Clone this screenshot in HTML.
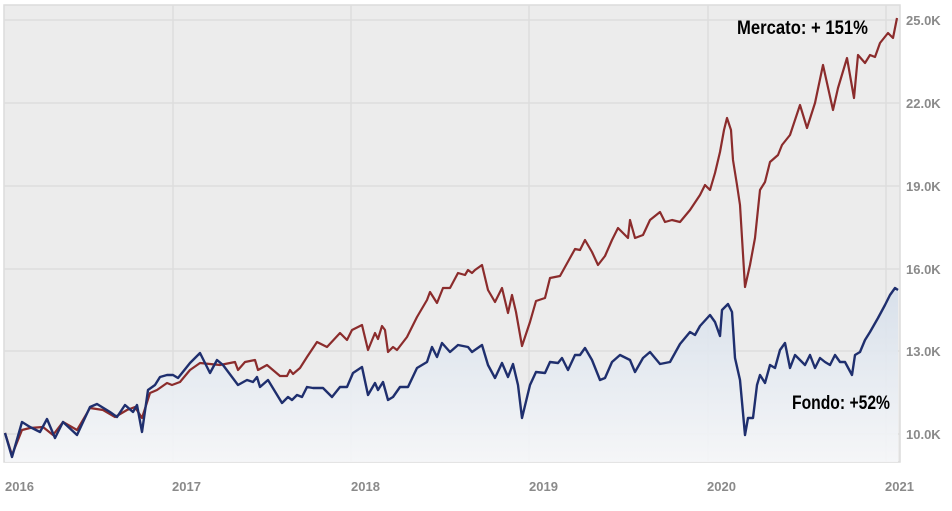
<!DOCTYPE html>
<html><head><meta charset="utf-8"><style>
html,body{margin:0;padding:0;background:#fff;}
svg{display:block;}
</style></head><body>
<svg width="952" height="511" viewBox="0 0 952 511" xmlns="http://www.w3.org/2000/svg">
<defs>
<linearGradient id="g" x1="0" y1="0" x2="0" y2="1">
<stop offset="0" stop-color="#d6dfea"/>
<stop offset="1" stop-color="#f6f7f9"/>
</linearGradient>
<filter id="b"><feGaussianBlur stdDeviation="0.5"/></filter>
</defs>
<rect x="4" y="5" width="896" height="457" fill="#ececec" stroke="#dcdcdc" stroke-width="1.5"/>
<g stroke="#dddddd" stroke-width="1.5">
<line x1="4" y1="20" x2="900" y2="20"/>
<line x1="4" y1="103" x2="900" y2="103"/>
<line x1="4" y1="186" x2="900" y2="186"/>
<line x1="4" y1="269" x2="900" y2="269"/>
<line x1="4" y1="351" x2="900" y2="351"/>
<line x1="4" y1="434" x2="900" y2="434"/>
<line x1="173" y1="5" x2="173" y2="462"/>
<line x1="351" y1="5" x2="351" y2="462"/>
<line x1="529" y1="5" x2="529" y2="462"/>
<line x1="708" y1="5" x2="708" y2="462"/>
<line x1="886" y1="5" x2="886" y2="462"/>
</g>
<path id="fill" fill="url(#g)" opacity="0.9" d="M5,462 L5,433 12,457 22,422 30,427 40,432 47,419 55,438 63,422 77,435 90,407 97,404 110,412 117,417 125,405 133,412 137,405 142,432 148,390 155,385 160,377 167,375 173,375 178,378 190,363 200,353 210,373 217,360 223,365 238,385 247,380 253,382 257,377 260,387 268,380 282,403 288,397 292,400 297,395 302,397 307,387 313,388 323,388 332,397 340,387 347,387 353,373 362,367 368,395 375,383 378,390 383,382 388,400 393,397 400,387 408,387 417,368 427,362 432,347 437,357 442,343 450,352 458,345 468,347 472,352 482,345 488,365 495,378 502,363 508,377 513,364 518,385 522,418 530,385 536,372 545,373 550,362 558,363 562,358 568,370 575,355 580,355 585,348 592,360 600,380 605,378 612,362 620,355 630,360 635,372 643,358 650,352 660,364 670,362 680,344 690,332 695,335 700,326 710,315 715,322 720,336 722,310 728,304 732,312 735,358 740,380 745,435 748,418 753,418 757,385 760,375 765,383 770,365 775,368 780,350 785,343 790,368 795,355 800,360 805,365 810,355 815,368 820,358 825,362 830,365 835,355 840,362 845,362 852,375 855,355 860,352 865,340 870,332 878,318 885,305 890,295 895,288 898,290 L898,462 Z"/>
<polyline fill="none" stroke="#8b2c2c" stroke-width="2.2" stroke-linejoin="round" points="5,433 12,455 22,430 30,428 43,427 53,435 63,422 77,430 90,408 103,410 115,417 127,410 135,407 142,418 150,393 157,390 167,383 172,385 180,382 190,370 200,363 220,365 235,362 238,370 245,362 255,360 258,370 267,365 280,376 287,376 290,370 293,374 300,368 307,357 317,342 327,347 340,333 347,340 352,330 362,325 368,350 375,333 378,339 382,326 385,330 388,352 393,347 397,350 407,337 417,317 427,300 430,292 437,303 443,288 450,288 458,273 465,275 468,270 472,273 475,270 482,265 488,290 495,302 502,288 508,313 512,295 516,312 522,346 530,322 536,301 545,298 550,278 560,276 570,258 575,249 580,250 585,240 592,252 598,265 605,256 612,240 618,228 628,238 630,220 635,238 643,235 650,220 660,212 665,222 672,220 680,222 690,210 700,195 705,185 710,190 715,173 720,152 724,130 727,118 731,130 733,160 737,185 740,205 745,287 750,265 755,238 760,190 765,182 770,162 778,155 782,145 790,135 800,105 807,128 815,103 823,65 833,110 838,88 847,58 854,98 858,55 865,63 870,55 875,57 880,43 888,33 893,38 897,18"/>
<polyline fill="none" stroke="#1f2f6e" stroke-width="2.4" stroke-linejoin="round" points="5,433 12,457 22,422 30,427 40,432 47,419 55,438 63,422 77,435 90,407 97,404 110,412 117,417 125,405 133,412 137,405 142,432 148,390 155,385 160,377 167,375 173,375 178,378 190,363 200,353 210,373 217,360 223,365 238,385 247,380 253,382 257,377 260,387 268,380 282,403 288,397 292,400 297,395 302,397 307,387 313,388 323,388 332,397 340,387 347,387 353,373 362,367 368,395 375,383 378,390 383,382 388,400 393,397 400,387 408,387 417,368 427,362 432,347 437,357 442,343 450,352 458,345 468,347 472,352 482,345 488,365 495,378 502,363 508,377 513,364 518,385 522,418 530,385 536,372 545,373 550,362 558,363 562,358 568,370 575,355 580,355 585,348 592,360 600,380 605,378 612,362 620,355 630,360 635,372 643,358 650,352 660,364 670,362 680,344 690,332 695,335 700,326 710,315 715,322 720,336 722,310 728,304 732,312 735,358 740,380 745,435 748,418 753,418 757,385 760,375 765,383 770,365 775,368 780,350 785,343 790,368 795,355 800,360 805,365 810,355 815,368 820,358 825,362 830,365 835,355 840,362 845,362 852,375 855,355 860,352 865,340 870,332 878,318 885,305 890,295 895,288 898,290"/>
<g font-family="Liberation Sans, sans-serif" font-size="13" fill="#8a8a8a" font-weight="bold">
<text x="906" y="25">25.0K</text>
<text x="906" y="108">22.0K</text>
<text x="906" y="191">19.0K</text>
<text x="906" y="274">16.0K</text>
<text x="906" y="356">13.0K</text>
<text x="906" y="439">10.0K</text>
<text x="5" y="491">2016</text>
<text x="172" y="491">2017</text>
<text x="351" y="491">2018</text>
<text x="529" y="491">2019</text>
<text x="707" y="491">2020</text>
<text x="885" y="491">2021</text>
</g>
<g font-family="Liberation Sans, sans-serif" font-size="19" font-weight="bold" fill="#000">
<text x="737" y="34" textLength="131" lengthAdjust="spacingAndGlyphs">Mercato: + 151%</text>
<text x="792" y="409" textLength="98" lengthAdjust="spacingAndGlyphs">Fondo: +52%</text>
</g>
</svg>
</body></html>
